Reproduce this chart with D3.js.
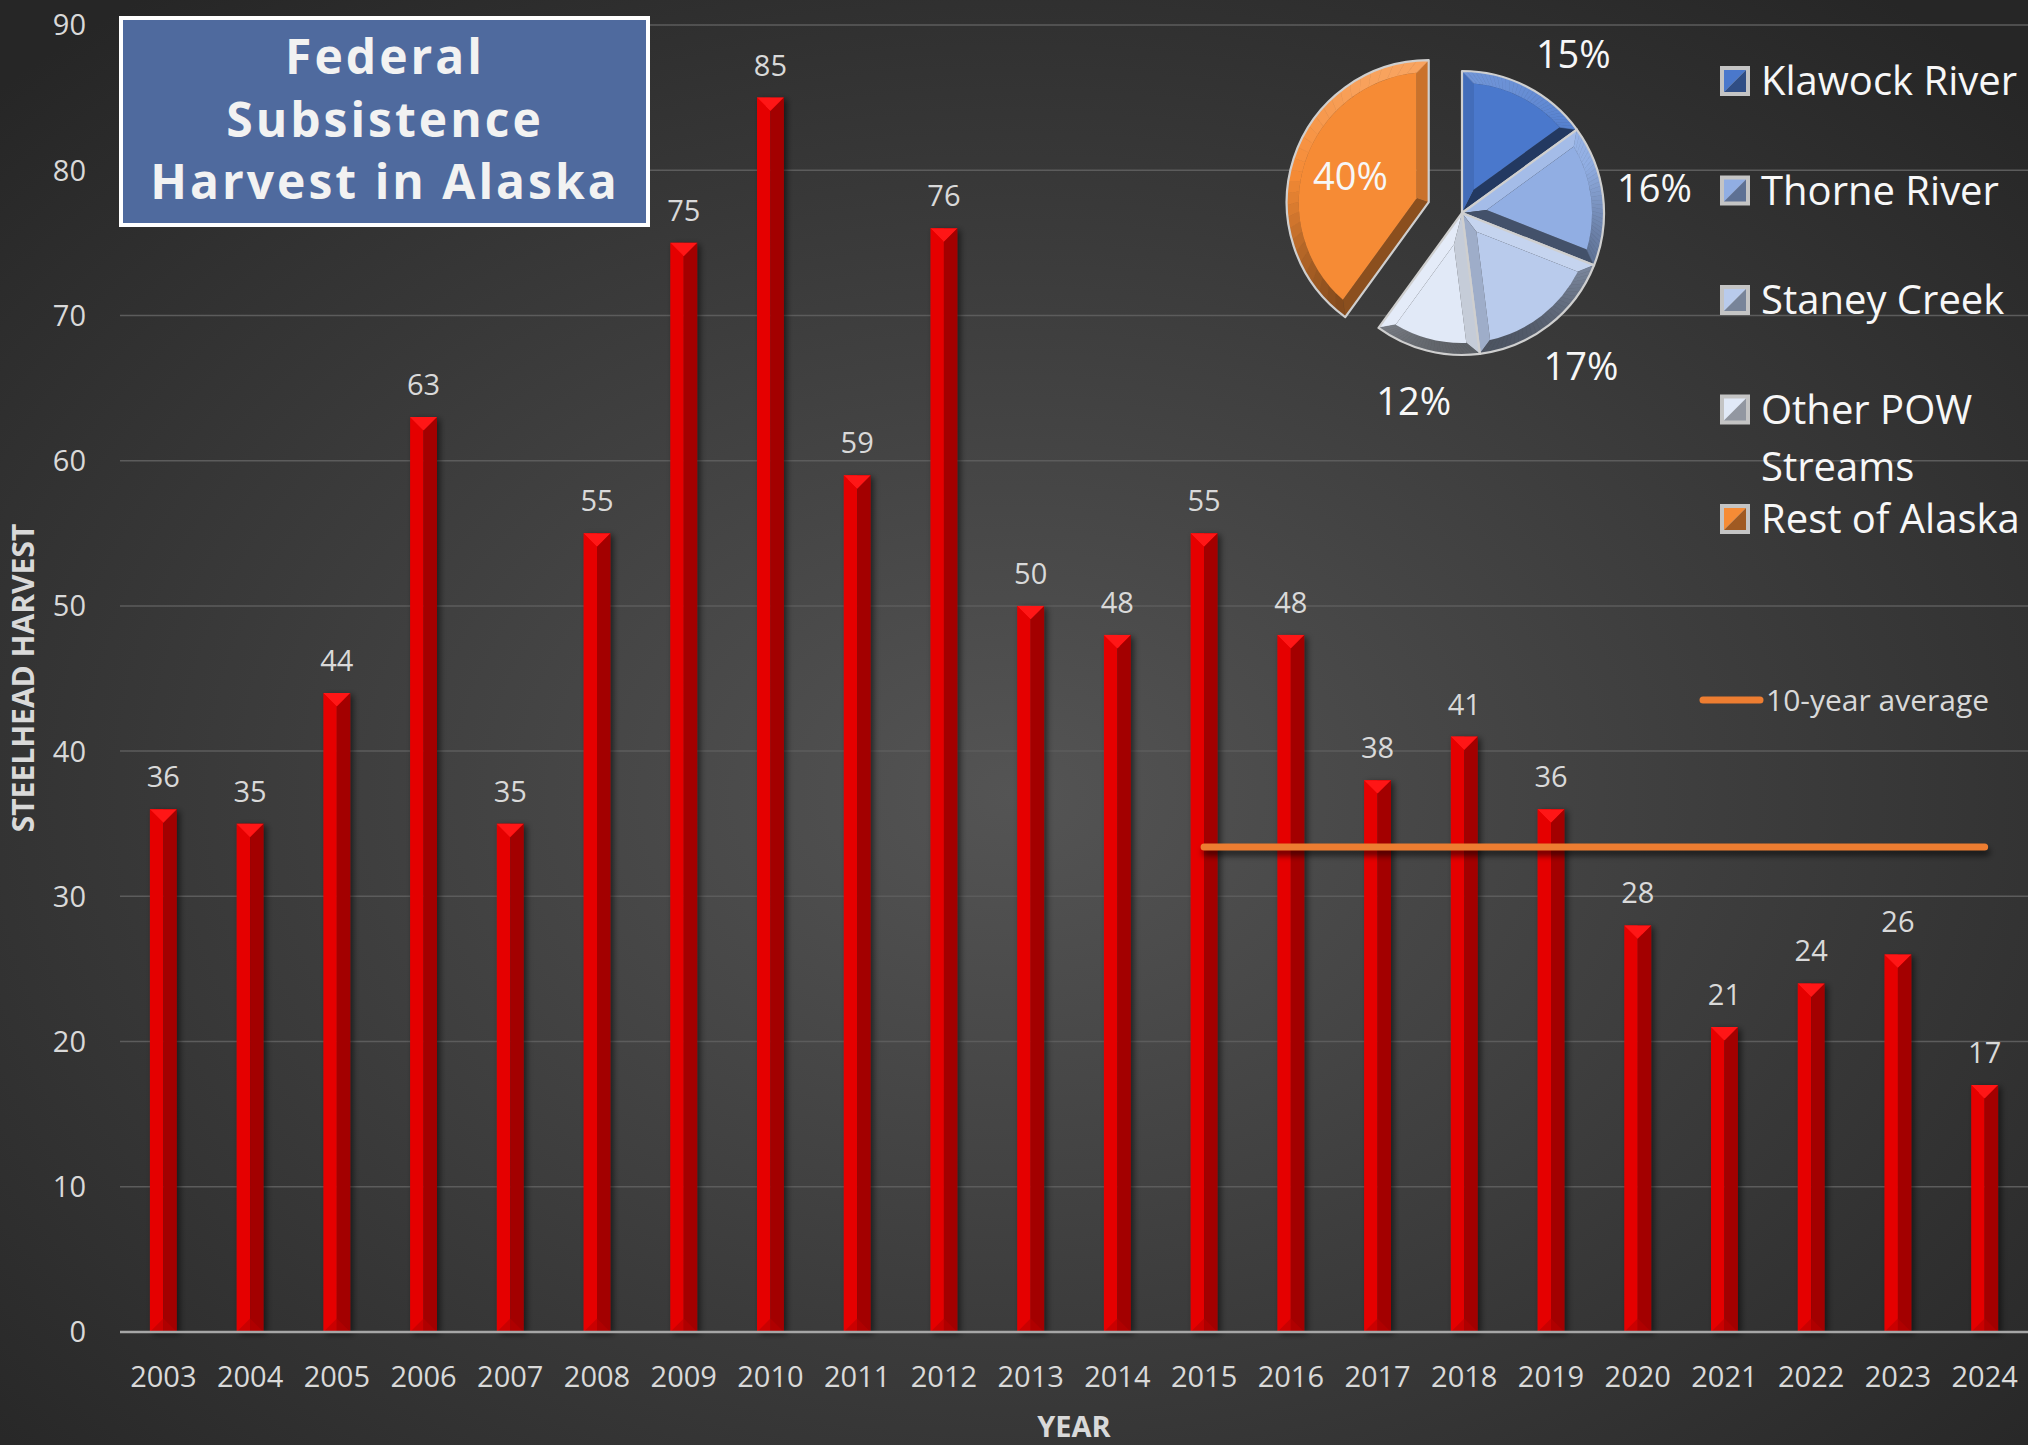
<!DOCTYPE html>
<html>
<head>
<meta charset="utf-8">
<script src="https://cdn.jsdelivr.net/npm/d3@7"></script>
<style>
  html, body { margin: 0; padding: 0; background: #2b2b2b; overflow: hidden; }
  svg { display: block; font-family: "Open Sans", sans-serif; }
</style>
</head>
<body>
<div id="chart"></div>
<script>
var width = 2028,
  height = 1445;

// Data
var years = ["2003", "2004", "2005", "2006", "2007", "2008", "2009", "2010", "2011", "2012", "2013",
  "2014", "2015", "2016", "2017", "2018", "2019", "2020", "2021", "2022", "2023", "2024"];
var harvest = [36, 35, 44, 63, 35, 55, 75, 85, 59, 76, 50, 48, 55, 48, 38, 41, 36, 28, 21, 24, 26, 17];
var yTicks = [0, 10, 20, 30, 40, 50, 60, 70, 80, 90];
var avgYears = ["2015", "2016", "2017", "2018", "2019", "2020", "2021", "2022", "2023", "2024"];

var regions = ["Klawock River", "Thorne River", "Staney Creek", "Other POW Streams", "Rest of Alaska"];
var regionShares = [15, 16, 17, 12, 40];
var regionColors = ["#4a78cc", "#91aee3", "#b9cbec", "#e1e9f7", "#f68b35"];
var legendLines = [["Klawock River"], ["Thorne River"], ["Staney Creek"], ["Other POW", "Streams"], ["Rest of Alaska"]];
var titleLines = ["Federal", "Subsistence", "Harvest in Alaska"];

var svg = d3.select("#chart").append("svg")
  .attr("width", width)
  .attr("height", height);

var defs = svg.append("defs");

var bg = defs.append("radialGradient")
  .attr("id", "bg")
  .attr("cx", "50%").attr("cy", "55%").attr("r", "70%");
bg.append("stop").attr("offset", "0%").attr("stop-color", "#545454");
bg.append("stop").attr("offset", "100%").attr("stop-color", "#262626");

var shadow = defs.append("filter").attr("id", "shadow")
  .attr("x", "-50%").attr("y", "-10%").attr("width", "200%").attr("height", "120%");
shadow.append("feDropShadow")
  .attr("dx", 3).attr("dy", 2).attr("stdDeviation", 3)
  .attr("flood-color", "#000").attr("flood-opacity", 0.55);

// horizontal lines have a flat bbox, so this one works in user space
defs.append("filter").attr("id", "blur")
  .attr("filterUnits", "userSpaceOnUse")
  .attr("x", 0).attr("y", 0).attr("width", width).attr("height", height)
  .append("feGaussianBlur").attr("stdDeviation", 3);

svg.append("rect")
  .attr("width", width)
  .attr("height", height)
  .attr("fill", "url(#bg)");

// Scales
var x = d3.scaleBand()
  .domain(years)
  .range([120, 2028])
  .paddingInner(0.69)
  .paddingOuter(0.345);

var y = d3.scaleLinear()
  .domain([0, 90])
  .range([1332, 25]);

// Gridlines
svg.append("g")
  .selectAll("line")
  .data(yTicks.slice(1))
  .enter()
  .append("line")
  .attr("x1", 120)
  .attr("x2", width)
  .attr("y1", function (d) { return y(d); })
  .attr("y2", function (d) { return y(d); })
  .attr("stroke", "#5c5c5c")
  .attr("stroke-width", 1.5);

// Y tick labels
svg.append("g")
  .selectAll("text")
  .data(yTicks)
  .enter()
  .append("text")
  .attr("x", 86)
  .attr("y", function (d) { return y(d); })
  .attr("dy", "0.36em")
  .attr("text-anchor", "end")
  .attr("fill", "#d9d9d9")
  .style("font-size", "29px")
  .text(function (d) { return d; });

// Bars
var bw = x.bandwidth();
var bars = svg.append("g")
  .selectAll("g")
  .data(harvest)
  .enter()
  .append("g")
  .attr("filter", "url(#shadow)")
  .attr("transform", function (d, i) { return "translate(" + x(years[i]) + ",0)"; });

bars.append("rect")
  .attr("x", 0)
  .attr("y", function (d) { return y(d); })
  .attr("width", bw / 2)
  .attr("height", function (d) { return y(0) - y(d); })
  .attr("fill", "#e50000");

bars.append("rect")
  .attr("x", bw / 2)
  .attr("y", function (d) { return y(d); })
  .attr("width", bw / 2)
  .attr("height", function (d) { return y(0) - y(d); })
  .attr("fill", "#a30000");

bars.append("path")
  .attr("d", function (d) {
    var t = y(d);
    return "M0," + t + "L" + bw + "," + t + "L" + (bw / 2) + "," + (t + bw / 2) + "Z";
  })
  .attr("fill", "#ff1414");

bars.append("path")
  .attr("d", function (d) {
    var b = y(0);
    return "M0," + b + "L" + bw + "," + b + "L" + (bw / 2) + "," + (b - bw / 2) + "Z";
  })
  .attr("fill", "#b80000")
  .attr("opacity", 0.6);

// Baseline
svg.append("line")
  .attr("x1", 120)
  .attr("x2", width)
  .attr("y1", y(0))
  .attr("y2", y(0))
  .attr("stroke", "#a6a6a6")
  .attr("stroke-width", 2.5);

// Value labels
svg.append("g")
  .selectAll("text")
  .data(harvest)
  .enter()
  .append("text")
  .attr("x", function (d, i) { return x(years[i]) + bw / 2; })
  .attr("y", function (d) { return y(d) - 22; })
  .attr("text-anchor", "middle")
  .attr("fill", "#d9d9d9")
  .style("font-size", "29px")
  .text(function (d) { return d; });

// X tick labels
svg.append("g")
  .selectAll("text")
  .data(years)
  .enter()
  .append("text")
  .attr("x", function (d) { return x(d) + bw / 2; })
  .attr("y", 1387)
  .attr("text-anchor", "middle")
  .attr("fill", "#d9d9d9")
  .style("font-size", "29px")
  .text(function (d) { return d; });

// Axis titles
svg.append("text")
  .attr("x", 1074)
  .attr("y", 1427)
  .attr("dy", "0.36em")
  .attr("text-anchor", "middle")
  .attr("fill", "#d9d9d9")
  .style("font-size", "29px")
  .style("font-weight", "bold")
  .text("YEAR");

svg.append("text")
  .attr("transform", "translate(23,678) rotate(-90)")
  .attr("dy", "0.36em")
  .attr("text-anchor", "middle")
  .attr("fill", "#d9d9d9")
  .style("font-size", "30px")
  .style("font-weight", "bold")
  .text("STEELHEAD HARVEST");

// 10-year average line
var avgValue = d3.mean(avgYears, function (yr) { return harvest[years.indexOf(yr)]; });
var avgX1 = x(avgYears[0]) + bw / 2,
  avgX2 = x(avgYears[avgYears.length - 1]) + bw / 2;

svg.append("line")
  .attr("x1", avgX1 + 2)
  .attr("x2", avgX2 + 2)
  .attr("y1", y(avgValue) + 5)
  .attr("y2", y(avgValue) + 5)
  .attr("stroke", "#000")
  .attr("stroke-opacity", 0.6)
  .attr("stroke-width", 7)
  .attr("stroke-linecap", "round")
  .attr("filter", "url(#blur)");

svg.append("line")
  .attr("x1", avgX1)
  .attr("x2", avgX2)
  .attr("y1", y(avgValue))
  .attr("y2", y(avgValue))
  .attr("stroke", "#ed7d31")
  .attr("stroke-width", 7)
  .attr("stroke-linecap", "round");

svg.append("line")
  .attr("x1", 1703)
  .attr("x2", 1760)
  .attr("y1", 700)
  .attr("y2", 700)
  .attr("stroke", "#ed7d31")
  .attr("stroke-width", 7)
  .attr("stroke-linecap", "round");

svg.append("text")
  .attr("x", 1766)
  .attr("y", 700)
  .attr("dy", "0.36em")
  .attr("fill", "#d9d9d9")
  .style("font-size", "30px")
  .text("10-year average");

// Title box
svg.append("rect")
  .attr("x", 121)
  .attr("y", 18)
  .attr("width", 527)
  .attr("height", 207)
  .attr("fill", "#4f6a9e")
  .attr("stroke", "#ffffff")
  .attr("stroke-width", 4);

svg.append("g")
  .selectAll("text")
  .data(titleLines)
  .enter()
  .append("text")
  .attr("x", 385)
  .attr("y", function (d, i) { return 57 + i * 62.5; })
  .attr("dy", "0.36em")
  .attr("text-anchor", "middle")
  .attr("fill", "#f2f2f2")
  .style("font-size", "48px")
  .style("font-weight", "bold")
  .style("letter-spacing", "3px")
  .text(function (d) { return d; });

// Pie with bevelled slices
var pieCx = 1462, pieCy = 213, pieR = 142, bevel = 12, explode = 35;
var light = [-0.1, -0.995];
// best-fit label placement: angle nudge (radians) per slice
var labelNudge = [0.14, 0, 0, 0, 0];

function pt(a, rad) { return [Math.sin(a) * rad, -Math.cos(a) * rad]; }

function shade(color, n) {
  var s = n[0] * light[0] + n[1] * light[1] - 0.3;
  return s > 0 ? d3.interpolateRgb(color, "#ffffff")(s * 0.3)
    : d3.interpolateRgb(color, "#000000")(-s * 0.45);
}

var pie = d3.pie().sort(null).value(function (d) { return d; });
var arcs = pie(regionShares);
var outline = d3.arc().innerRadius(0).outerRadius(pieR);

var slices = svg.append("g")
  .attr("transform", "translate(" + pieCx + "," + pieCy + ")")
  .selectAll("g")
  .data(arcs)
  .enter()
  .append("g")
  .attr("transform", function (d, i) {
    if (i !== arcs.length - 1) return null;
    var m = (d.startAngle + d.endAngle) / 2, p = pt(m, explode);
    return "translate(" + p[0] + "," + p[1] + ")";
  });

slices.each(function (d, i) {
  var g = d3.select(this), col = regionColors[i];
  var a0 = d.startAngle, a1 = d.endAngle, R = pieR - bevel;
  var half = (a1 - a0) / 2, mid = a0 + half;
  var P = pt(mid, bevel / Math.sin(half));
  var dl = Math.asin(bevel / R);
  var poly = function (pts) { return "M" + pts.map(function (p) { return p.join(","); }).join("L") + "Z"; };

  // edge facets
  g.append("path")
    .attr("d", poly([[0, 0], pt(a0, pieR), pt(a0 + dl, R), P]))
    .attr("fill", shade(col, [-Math.cos(a0), -Math.sin(a0)]));
  g.append("path")
    .attr("d", poly([[0, 0], P, pt(a1 - dl, R), pt(a1, pieR)]))
    .attr("fill", shade(col, [Math.cos(a1), Math.sin(a1)]));

  // outer rim facets
  var n = 30;
  for (var k = 0; k < n; k++) {
    var oa = a0 + (a1 - a0) * k / n, ob = a0 + (a1 - a0) * (k + 1) / n;
    var ia = a0 + dl + (a1 - a0 - 2 * dl) * k / n, ib = a0 + dl + (a1 - a0 - 2 * dl) * (k + 1) / n;
    var m = (oa + ob) / 2;
    var c = shade(col, [Math.sin(m), -Math.cos(m)]);
    g.append("path")
      .attr("d", poly([pt(oa, pieR), pt(ob, pieR), pt(ib, R), pt(ia, R)]))
      .attr("fill", c)
      .attr("stroke", c)
      .attr("stroke-width", 0.6);
  }

  // top face
  var face = d3.path();
  face.moveTo(P[0], P[1]);
  var s0 = pt(a0 + dl, R);
  face.lineTo(s0[0], s0[1]);
  face.arc(0, 0, R, a0 + dl - Math.PI / 2, a1 - dl - Math.PI / 2);
  face.closePath();
  g.append("path").attr("d", face.toString()).attr("fill", col);

  g.append("path")
    .attr("d", outline(d))
    .attr("fill", "none")
    .attr("stroke", "#cfcfcf")
    .attr("stroke-width", 2.2)
    .attr("stroke-linejoin", "round");
});

// Pie labels
var labelArc = d3.arc().innerRadius(194).outerRadius(194);
var innerArc = d3.arc().innerRadius(pieR * 0.58).outerRadius(pieR * 0.58);

svg.append("g")
  .attr("transform", "translate(" + pieCx + "," + pieCy + ")")
  .selectAll("text")
  .data(arcs)
  .enter()
  .append("text")
  .attr("transform", function (d, i) {
    var c;
    if (i === arcs.length - 1) {
      var m = (d.startAngle + d.endAngle) / 2, p = pt(m, explode);
      c = innerArc.centroid(d);
      c = [c[0] + p[0], c[1] + p[1]];
    } else {
      c = labelArc.centroid({ startAngle: d.startAngle + labelNudge[i], endAngle: d.endAngle + labelNudge[i] });
    }
    return "translate(" + c[0] + "," + c[1] + ")";
  })
  .attr("dy", "0.36em")
  .attr("text-anchor", "middle")
  .attr("fill", "#f7f7f7")
  .style("font-size", "38px")
  .text(function (d) { return d.data + "%"; });

// Legend
var legend = svg.append("g")
  .selectAll("g")
  .data(regions)
  .enter()
  .append("g")
  .attr("transform", function (d, i) { return "translate(1735," + (81 + i * 109.5) + ")"; });

legend.append("rect")
  .attr("x", -15).attr("y", -15)
  .attr("width", 30).attr("height", 30)
  .attr("fill", "#c4c4c4");

legend.append("path")
  .attr("d", "M-11,-11L11,-11L-11,11Z")
  .attr("fill", function (d, i) { return regionColors[i]; });

legend.append("path")
  .attr("d", "M11,-11L11,11L-11,11Z")
  .attr("fill", function (d, i) { return d3.interpolateRgb(regionColors[i], "#000")(0.35); });

legend.append("text")
  .attr("x", 26)
  .attr("fill", "#f7f7f7")
  .style("font-size", "40px")
  .each(function (d, i) {
    var t = d3.select(this);
    legendLines[i].forEach(function (line, j) {
      t.append("tspan")
        .attr("x", 26)
        .attr("y", j * 57)
        .attr("dy", "0.36em")
        .text(line);
    });
  });
</script>
</body>
</html>
